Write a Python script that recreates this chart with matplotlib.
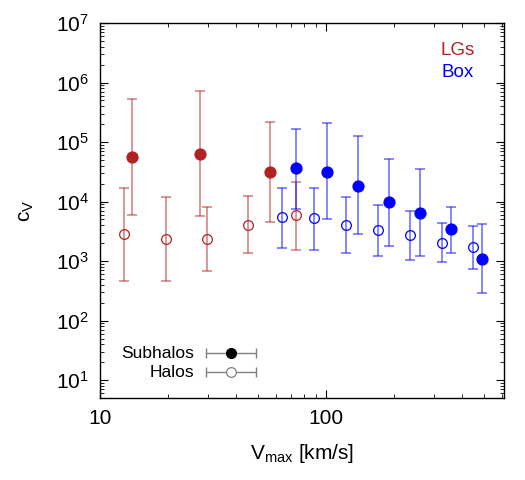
import numpy as np
import matplotlib
matplotlib.use('Agg')
import matplotlib.pyplot as plt
from matplotlib.ticker import LogLocator, NullFormatter, FixedLocator

plt.rcParams['font.family'] = ['Liberation Sans', 'DejaVu Sans']
plt.rcParams['mathtext.fontset'] = 'custom'
plt.rcParams['mathtext.rm'] = 'Liberation Sans'
plt.rcParams['mathtext.it'] = 'Liberation Sans:italic'

# LG subhalos (filled red)
lg_sub_v = [13.8, 27.8, 56.5]
lg_sub_c = [5.6e4, 6.4e4, 3.2e4]
lg_sub_hi = [5.3e5, 7.2e5, 2.2e5]
lg_sub_lo = [5.9e3, 5.7e3, 4.6e3]

# LG halos (open red)
lg_halo_v = [12.8, 19.5, 29.7, 45.3, 73.8]
lg_halo_c = [2.85e3, 2.34e3, 2.32e3, 4.1e3, 5.85e3]
lg_halo_hi = [1.7e4, 1.2e4, 8.2e3, 1.26e4, 2.15e4]
lg_halo_lo = [470, 470, 670, 1.39e3, 1.52e3]

# Box subhalos (filled blue)
box_sub_v = [73.8, 101, 139, 190, 260, 358, 488]
box_sub_c = [3.6e4, 3.2e4, 1.86e4, 9.7e3, 6.5e3, 3.4e3, 1.1e3]
box_sub_hi = [1.66e5, 2.1e5, 1.26e5, 5.2e4, 3.5e4, 8.2e3, 4.25e3]
box_sub_lo = [7.6e3, 5.0e3, 2.8e3, 1.8e3, 1.2e3, 1.39e3, 290]

# Box halos (open blue)
box_halo_v = [63.8, 88.1, 122, 169, 234, 324, 448]
box_halo_c = [5.4e3, 5.2e3, 4.0e3, 3.3e3, 2.74e3, 2.04e3, 1.7e3]
box_halo_hi = [1.7e4, 1.7e4, 1.2e4, 8.8e3, 7.0e3, 4.4e3, 3.9e3]
box_halo_lo = [1.68e3, 1.56e3, 1.35e3, 1.22e3, 1.06e3, 955, 730]

red = '#B22222'
blue = '#0000FF'

fig = plt.figure(figsize=(5.25, 4.8), dpi=100)
ax = fig.add_axes([0.1905, 0.1708, 0.7695, 0.7812])


def draw(v, c, lo, hi, col, filled):
    c = np.array(c)
    yerr = [c - np.array(lo), np.array(hi) - c]
    ax.errorbar(v, c, yerr=yerr, fmt='none', ecolor=col, alpha=0.55,
                elinewidth=1.2, capsize=3.3, capthick=1.2)
    if filled:
        ax.plot(v, c, 'o', color=col, ms=7.8, ls='none')
    else:
        ax.plot(v, c, 'o', mfc='none', mec=col, mew=0.9, ms=7, ls='none')


draw(lg_halo_v, lg_halo_c, lg_halo_lo, lg_halo_hi, red, False)
draw(lg_sub_v, lg_sub_c, lg_sub_lo, lg_sub_hi, red, True)
draw(box_halo_v, box_halo_c, box_halo_lo, box_halo_hi, blue, False)
draw(box_sub_v, box_sub_c, box_sub_lo, box_sub_hi, blue, True)

ax.set_xscale('log')
ax.set_yscale('log')
ax.set_xlim(10, 612)
ax.set_ylim(5, 1e7)

ax.xaxis.set_major_locator(FixedLocator([10, 100]))
ax.set_xticklabels(['10', '100'])
ax.xaxis.set_minor_locator(LogLocator(base=10, subs=np.arange(2, 10)))
ax.xaxis.set_minor_formatter(NullFormatter())
ax.yaxis.set_major_locator(FixedLocator([10.0**k for k in range(1, 8)]))
ax.set_yticklabels([r'$10^{%d}$' % k for k in range(1, 8)])
ax.yaxis.set_minor_locator(LogLocator(base=10, subs=np.arange(2, 10), numticks=20))
ax.yaxis.set_minor_formatter(NullFormatter())

ax.tick_params(which='both', direction='in', top=True, right=True, labelsize=15, pad=8)
ax.tick_params(which='major', length=6, width=0.8)
ax.tick_params(which='minor', length=3, width=0.6)
for s in ax.spines.values():
    s.set_linewidth(1.0)

ax.set_xlabel(r'V$_\mathrm{max}$ [km/s]', fontsize=15, labelpad=10)
ax.set_ylabel(r'c$_\mathrm{V}$', fontsize=15, labelpad=14)

ax.text(0.884, 0.928, 'LGs', color=red, fontsize=13.5, ha='center', va='center', transform=ax.transAxes)
ax.text(0.884, 0.869, 'Box', color=blue, fontsize=13.5, ha='center', va='center', transform=ax.transAxes)

# legend drawn by hand
for yy, lab, filled in [(0.12, 'Subhalos', True), (0.069, 'Halos', False)]:
    ax.errorbar([0.324], [yy], xerr=[0.062], fmt='none', ecolor='gray', elinewidth=1,
                capsize=3.5, transform=ax.transAxes)
    if filled:
        ax.plot([0.324], [yy], 'o', color='black', ms=7, transform=ax.transAxes)
    else:
        ax.plot([0.324], [yy], 'o', mfc='white', mec='gray', mew=0.9, ms=7, transform=ax.transAxes)
    ax.text(0.233, yy, lab, fontsize=12.5, ha='right', va='center', transform=ax.transAxes)

fig.savefig('out.png', dpi=100)
